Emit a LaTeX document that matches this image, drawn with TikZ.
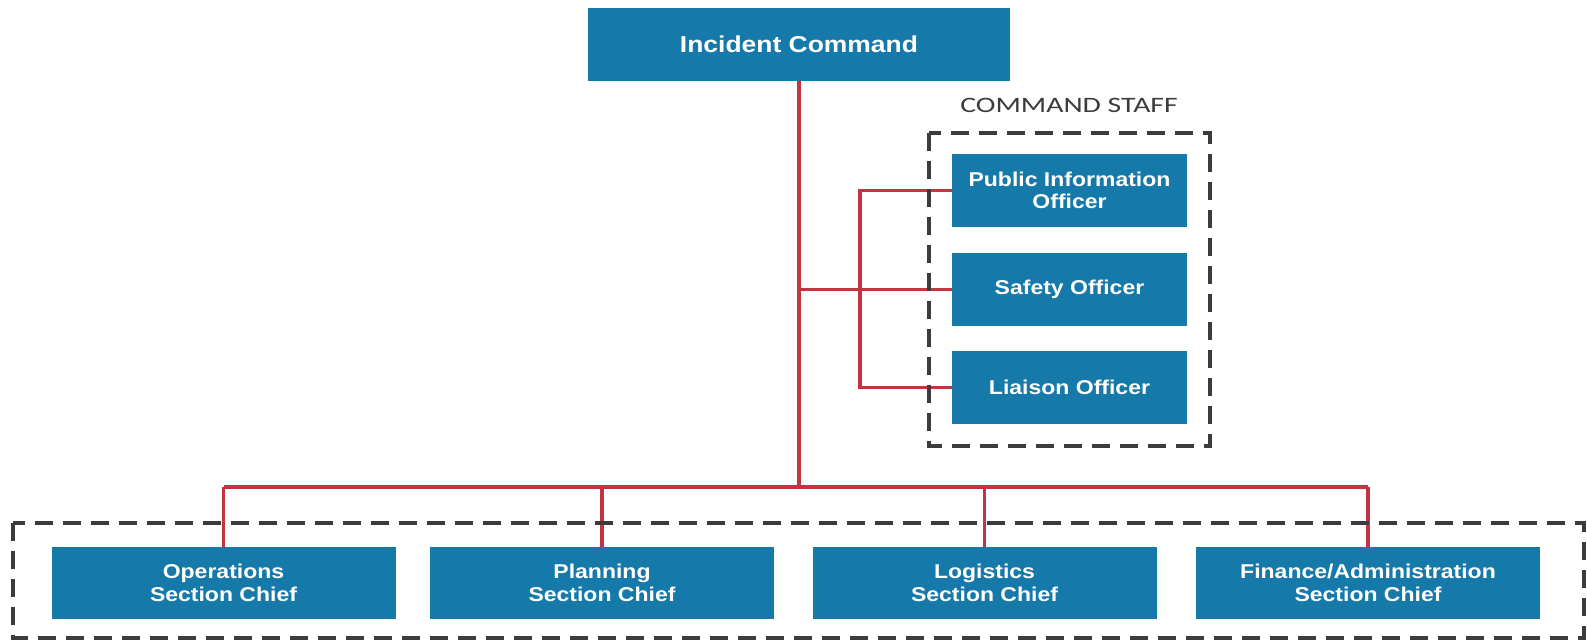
\documentclass[tikz,border=0pt]{standalone}
\usepackage{fontspec}
\newfontfamily\boxfont[FakeStretch=1.15]{Liberation Sans}
\newfontfamily\labelfont[FakeStretch=1.35]{Carlito}
\definecolor{boxblue}{RGB}{21,121,170}
\definecolor{linered}{RGB}{196,52,64}
\definecolor{dashgray}{RGB}{60,60,60}
\begin{document}
\begin{tikzpicture}[x=1pt,y=-1pt,
  unit/.style={fill=boxblue, draw=none, text=white, align=center,
    inner sep=0pt, font=\boxfont\bfseries\fontsize{20}{22.5}\selectfont},
  topunit/.style={unit, minimum width=422pt, minimum height=73pt,
    font=\boxfont\bfseries\fontsize{23}{26}\selectfont},
  staffunit/.style={unit, minimum width=235pt, minimum height=73pt},
  sectunit/.style={unit, minimum width=344pt, minimum height=72pt},
  link/.style={draw=linered, line width=3.2pt},
  group/.style={draw=dashgray, line width=3.2pt, dash pattern=on 18pt off 10pt}]
\useasboundingbox (0,0) rectangle (1587,641);

% nodes
\node[topunit] (ic) at (799,44.5) {Incident Command};
\node[font=\labelfont\fontsize{22}{24}\selectfont, text=dashgray] (cs) at (1069,105) {COMMAND STAFF};
\node[staffunit] (pio) at (1069.5,190.5) {Public Information\\Officer};
\node[staffunit] (safety) at (1069.5,289.5) {Safety Officer};
\node[staffunit] (liaison) at (1069.5,387.5) {Liaison Officer};
\node[sectunit] (ops) at (223.5,583) {Operations\\Section Chief};
\node[sectunit] (plan) at (602,583) {Planning\\Section Chief};
\node[sectunit] (log) at (984.5,583) {Logistics\\Section Chief};
\node[sectunit] (fin) at (1368,583) {Finance/Administration\\Section Chief};

% junction coordinates
\coordinate (bus) at (ic.south |- 0,487);
\coordinate (sj) at (ic.south |- safety.west);
\coordinate (sx) at (860,0);

% connectors
\draw[link] (ic.south) -- (bus);
\draw[link] (sj) -- (safety.west);
\draw[link] (pio.west) -- (sx |- pio.west) -- (sx |- liaison.west) -- (liaison.west);
\draw[link] (ops.north |- bus) -- (fin.north |- bus);
\draw[link] (ops.north |- bus) -- (ops.north);
\draw[link] (plan.north |- bus) -- (plan.north);
\draw[link] (log.north |- bus) -- (log.north);
\draw[link] (fin.north |- bus) -- (fin.north);

% dashed group frames over the connectors
\draw[group] (929,133) rectangle (1210,446);
\draw[group] (13,523) rectangle (1584,638);
\end{tikzpicture}
\end{document}
